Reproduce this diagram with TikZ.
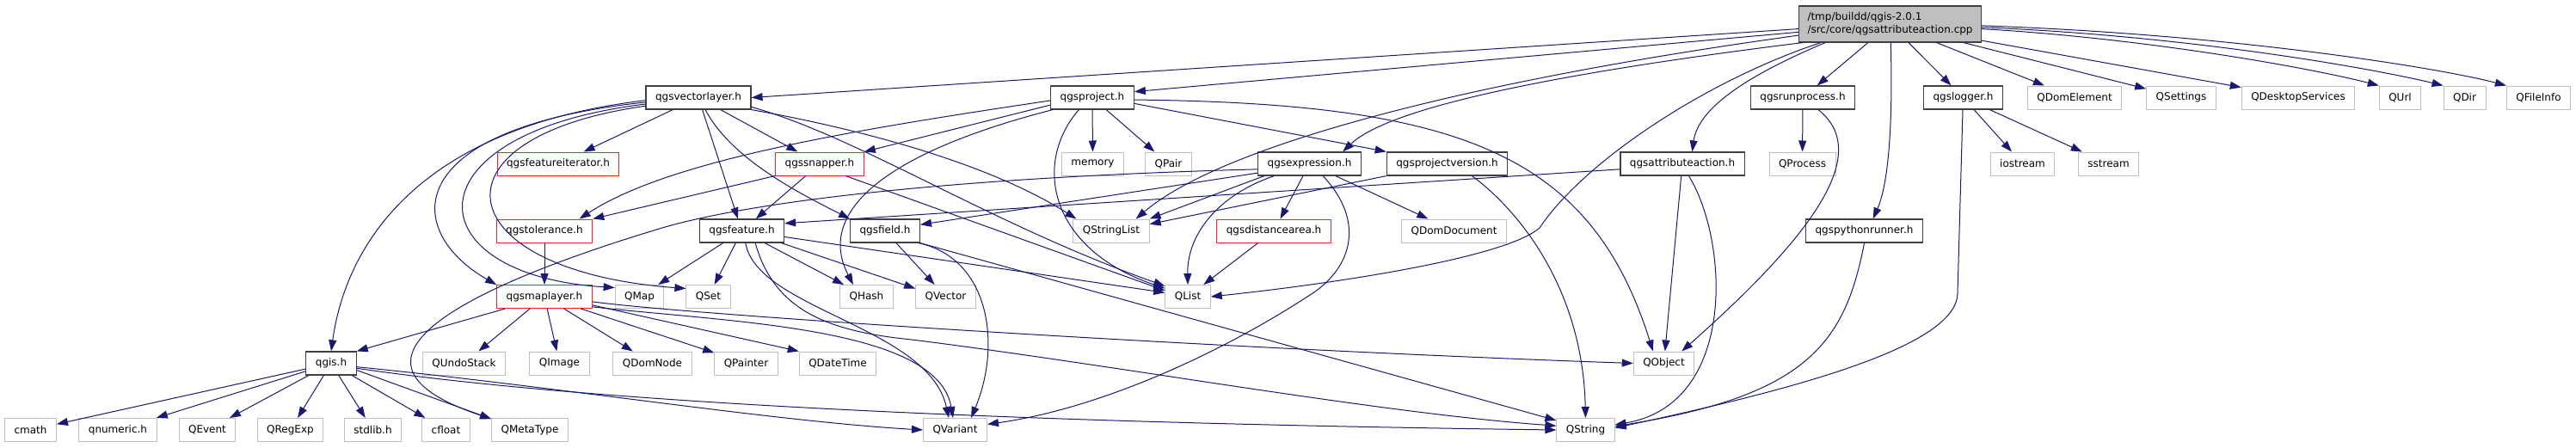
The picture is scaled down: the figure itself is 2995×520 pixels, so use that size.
\documentclass[tikz,border=0pt]{standalone}
\usepackage{fontspec}
\setsansfont{DejaVu Sans}
\usetikzlibrary{arrows.meta}

\begin{document}
\begin{tikzpicture}[x=1pt, y=-1pt,
    hdr/.style={minimum height=27pt, inner xsep=11pt, inner ysep=0pt,
                line width=1pt, font=\sffamily\fontsize{12}{15}\selectfont},
    docfile/.style={hdr, draw=docline, line width=1.2pt},
    nodoc/.style={hdr, draw=nodocline},
    extfile/.style={hdr, draw=extline},
    srcfile/.style={hdr, draw=docline, line width=1.2pt, fill=srcfill,
                    minimum height=42pt, inner xsep=10pt, align=left},
    dep/.style={draw=depblue, line width=1pt, -{Triangle[length=13pt,width=9pt]}},
]

% Colors
\definecolor{docline}{HTML}{404040}
\definecolor{nodocline}{HTML}{FF2020}
\definecolor{extline}{HTML}{BFBFBF}
\definecolor{srcfill}{HTML}{BFBFBF}
\definecolor{depblue}{HTML}{191970}

\useasboundingbox (0,0) rectangle (2995,520);

\def\rowA{113.5}
\def\rowB{190.5}
\def\rowC{268.5}
\def\rowD{345}
\def\rowE{422.5}
\def\rowF{500}

% === Source file ===
\node[srcfile] (root) at (2197.5,28) {/tmp/buildd/qgis-2.0.1\\/src/core/qgsattributeaction.cpp};

% === Row 1 ===
\node[docfile] (vl)       at (812,\rowA)    {qgsvectorlayer.h};
\node[docfile] (proj)     at (1270,\rowA)   {qgsproject.h};
\node[docfile] (runp)     at (2096,\rowA)   {qgsrunprocess.h};
\node[docfile] (logger)   at (2282.5,\rowA) {qgslogger.h};
\node[extfile] (domel)    at (2412,\rowA)   {QDomElement};
\node[extfile] (settings) at (2536,\rowA)   {QSettings};
\node[extfile] (desk)     at (2672,\rowA)   {QDesktopServices};
\node[extfile] (url)      at (2790.5,\rowA) {QUrl};
\node[extfile] (qdir)     at (2865.5,\rowA) {QDir};
\node[extfile] (finfo)    at (2951.5,\rowA) {QFileInfo};

% === Row 2 ===
\node[nodoc]   (fiter)  at (649,\rowB)    {qgsfeatureiterator.h};
\node[nodoc]   (snap)   at (953,\rowB)    {qgssnapper.h};
\node[extfile] (memory) at (1270.5,\rowB) {memory};
\node[extfile] (qpair)  at (1358.5,\rowB) {QPair};
\node[docfile] (expr)   at (1522.5,\rowB) {qgsexpression.h};
\node[docfile] (pver)   at (1682.5,\rowB) {qgsprojectversion.h};
\node[docfile] (aact)   at (1956,\rowB)   {qgsattributeaction.h};
\node[extfile] (proc)   at (2095.5,\rowB) {QProcess};
\node[extfile] (iostr)  at (2351.5,\rowB) {iostream};
\node[extfile] (sstr)   at (2451.5,\rowB) {sstream};

% === Row 3 ===
\node[nodoc]   (tol)    at (633,\rowC)    {qgstolerance.h};
\node[docfile] (feat)   at (862.5,\rowC)  {qgsfeature.h};
\node[docfile] (field)  at (1029,\rowC)   {qgsfield.h};
\node[extfile] (slist)  at (1292,\rowC)   {QStringList};
\node[nodoc]   (darea)  at (1481,\rowC)   {qgsdistancearea.h};
\node[extfile] (domdoc) at (1690.5,\rowC) {QDomDocument};
\node[docfile] (pyrun)  at (2167.5,\rowC) {qgspythonrunner.h};

% === Row 4 ===
\node[nodoc]   (mlayer) at (633,\rowD)    {qgsmaplayer.h};
\node[extfile] (qmap)   at (743.5,\rowD)  {QMap};
\node[extfile] (qset)   at (823.5,\rowD)  {QSet};
\node[extfile] (qhash)  at (1007.5,\rowD) {QHash};
\node[extfile] (qvec)   at (1099.5,\rowD) {QVector};
\node[extfile] (qlist)  at (1381,\rowD)   {QList};

% === Row 5 ===
\node[docfile] (qgis)     at (385,\rowE)    {qgis.h};
\node[extfile] (undo)     at (539.5,\rowE)  {QUndoStack};
\node[extfile] (image)    at (650.5,\rowE)  {QImage};
\node[extfile] (domnode)  at (758.5,\rowE)  {QDomNode};
\node[extfile] (painter)  at (867.5,\rowE)  {QPainter};
\node[extfile] (datetime) at (974,\rowE)    {QDateTime};
\node[extfile] (qobj)     at (1934.5,\rowE) {QObject};

% === Row 6 ===
\node[extfile] (cmath)    at (35.5,\rowF)   {cmath};
\node[extfile] (qnum)     at (137,\rowF)    {qnumeric.h};
\node[extfile] (qevent)   at (241,\rowF)    {QEvent};
\node[extfile] (regexp)   at (337.5,\rowF)  {QRegExp};
\node[extfile] (stdlib)   at (433.5,\rowF)  {stdlib.h};
\node[extfile] (cfloat)   at (518.5,\rowF)  {cfloat};
\node[extfile] (metatype) at (616,\rowF)    {QMetaType};
\node[extfile] (variant)  at (1110.5,\rowF) {QVariant};
\node[extfile] (qstring)  at (1843.5,\rowF) {QString};

% === Includes of the source file ===
\draw[dep] (root.183) -- (vl.east);
\draw[dep] (root.185) -- (proj.8);
\draw[dep] (root.187) .. controls (1700,95) and (1420,170) .. (slist.26);
\draw[dep] (root.192) .. controls (1850,80) and (1620,120) .. (expr.20);
\draw[dep] (root.195) .. controls (1980,95) and (1840,190) .. (1790,265)
                      .. controls (1750,300) and (1550,330) .. (qlist.east);
\draw[dep] (root.196) .. controls (2050,80) and (1975,120) .. (aact.51);
\draw[dep] (root) -- (runp);
\draw[dep] (root.-88) .. controls (2201,150) and (2195,215) .. (pyrun.54);
\draw[dep] (root) -- (logger);
\draw[dep] (root) -- (domel);
\draw[dep] (root) -- (settings);
\draw[dep] (root) -- (desk);
\draw[dep] (root.-3) .. controls (2500,45) and (2690,80) .. (url.north west);
\draw[dep] (root.-2) .. controls (2550,42) and (2760,80) .. (qdir.north west);
\draw[dep] (root.-1) .. controls (2600,40) and (2840,80) .. (finfo.north west);

% === qgsvectorlayer.h ===
\draw[dep] (vl.183) .. controls (470,150) and (400,300) .. (qgis.north);
\draw[dep] (vl.185) .. controls (460,150) and (470,270) .. (mlayer.166);
\draw[dep] (vl.187) .. controls (470,155) and (480,320) .. (qmap.160);
\draw[dep] (vl.189) .. controls (490,160) and (520,315) .. (qset.160);
\draw[dep] (vl) -- (fiter);
\draw[dep] (vl) -- (feat);
\draw[dep] (vl) -- (snap);
\draw[dep] (vl.-60) .. controls (850,185) and (930,225) .. (field.north west);
\draw[dep] (vl.south east) .. controls (1000,150) and (1150,190) .. (slist.161);
\draw[dep] (vl.-10) .. controls (1000,160) and (1150,260) .. (qlist.155);

% === qgsproject.h ===
\draw[dep] (proj) -- (memory);
\draw[dep] (proj) -- (qpair);
\draw[dep] (proj.190) -- (snap.north east);
\draw[dep] (proj.184) .. controls (1000,150) and (780,185) .. (tol.19);
\draw[dep] (proj.197) .. controls (1020,180) and (950,250) .. (qhash.138);
\draw[dep] (proj.222) .. controls (1200,190) and (1220,290) .. (qlist.160);
\draw[dep] (proj.-3) .. controls (1700,120) and (1850,180) .. (qobj.132);
\draw[dep] (proj.-8) -- (pver.north west);

% === second row ===
\draw[dep] (snap.south west) -- (tol.north east);
\draw[dep] (snap) -- (feat);
\draw[dep] (snap.-25) -- (qlist.165);

\draw[dep] (expr.186) .. controls (1150,205) and (880,230) .. (760,268)
                      .. controls (540,335) and (370,420) .. (metatype.164);
\draw[dep] (expr.190) -- (field.10);
\draw[dep] (expr.195) -- (slist.north east);
\draw[dep] (expr.199) .. controls (1420,225) and (1380,270) .. (qlist.north);
\draw[dep] (expr) -- (darea);
\draw[dep] (expr.-42) .. controls (1590,260) and (1570,315) .. (1520,345)
                      .. controls (1420,410) and (1280,475) .. (variant.10);
\draw[dep] (expr) -- (domdoc);

\draw[dep] (pver.south west) -- (slist.10);
\draw[dep] (pver.-26) .. controls (1760,240) and (1840,330) .. (qstring.north);

\draw[dep] (aact.185) -- (feat.10);
\draw[dep] (aact) -- (qobj);
\draw[dep] (aact.-62) .. controls (2010,280) and (2020,470) .. (qstring.10);

\draw[dep] (runp) -- (proc);
\draw[dep] (runp.-38) .. controls (2180,180) and (2100,280) .. (qobj.34);

\draw[dep] (logger) -- (iostr);
\draw[dep] (logger) -- (sstr);
\draw[dep] (logger.-92) -- ++(-6,213) .. controls +(0,60) and (2100,450) .. (qstring.4);

% === third row ===
\draw[dep] (pyrun.south) .. controls (2145,400) and (2100,460) .. (qstring.7);
\draw[dep] (darea) -- (qlist);
\draw[dep] (tol) -- (mlayer);

\draw[dep] (field) -- (qvec);
\draw[dep] (field.-20) .. controls (1150,300) and (1165,400) .. (variant.37);
\draw[dep] (field.south east) -- (qstring.162);

\draw[dep] (feat) -- (qmap);
\draw[dep] (feat) -- (qset);
\draw[dep] (feat) -- (qhash);
\draw[dep] (feat.-17) -- (qvec.165);
\draw[dep] (feat.-8) -- (qlist.170);
\draw[dep] (feat.-73) .. controls (880,360) and (1080,380) .. (variant.118);
\draw[dep] (feat.-42) .. controls (900,360) and (960,385) .. (1060,395)
                      .. controls (1300,425) and (1600,480) .. (qstring.172);

% === qgsmaplayer.h ===
\draw[dep] (mlayer.197) -- (qgis.north east);
\draw[dep] (mlayer) -- (undo);
\draw[dep] (mlayer) -- (image);
\draw[dep] (mlayer) -- (domnode);
\draw[dep] (mlayer) -- (painter);
\draw[dep] (mlayer.-10) -- (datetime.north west);
\draw[dep] (mlayer.-6) .. controls (800,366) and (1400,405) .. (qobj.west);
\draw[dep] (mlayer.-12) .. controls (850,375) and (1090,380) .. (variant.100);

% === qgis.h ===
\draw[dep] (qgis) -- (cmath);
\draw[dep] (qgis) -- (qnum);
\draw[dep] (qgis) -- (qevent);
\draw[dep] (qgis) -- (regexp);
\draw[dep] (qgis) -- (stdlib);
\draw[dep] (qgis) -- (cfloat);
\draw[dep] (qgis.-15) -- (metatype.164);
\draw[dep] (qgis.-8) .. controls (650,450) and (900,490) .. (variant.west);
\draw[dep] (qgis.-11) .. controls (700,470) and (1200,492) .. (qstring.west);
\end{tikzpicture}
\end{document}
